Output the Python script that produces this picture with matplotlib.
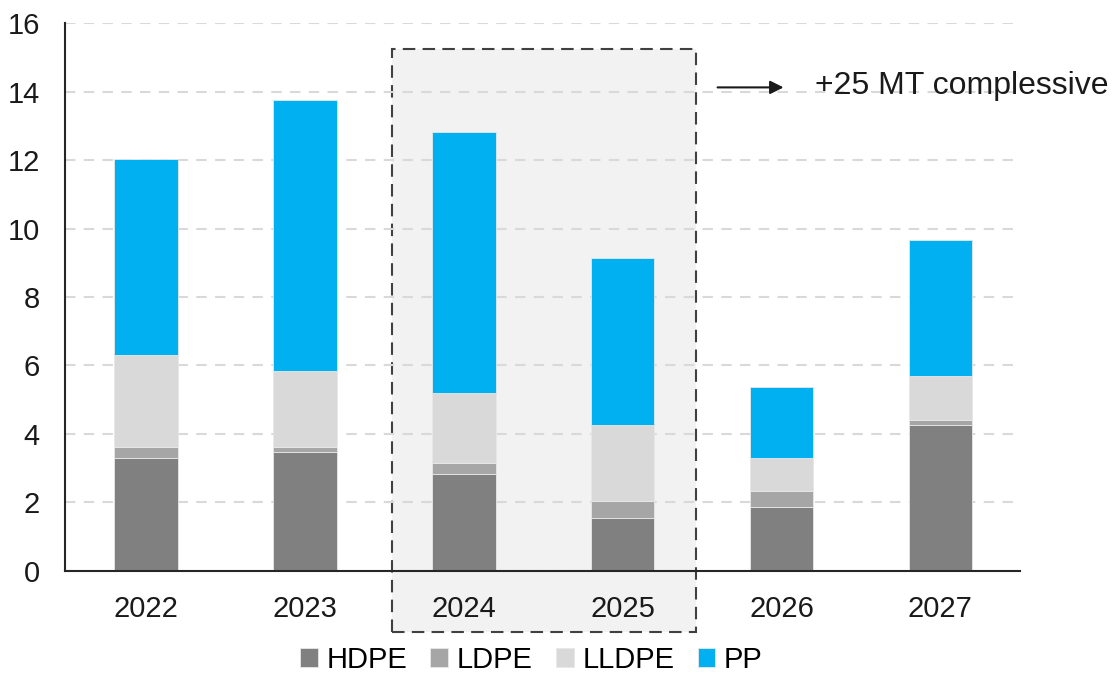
import matplotlib
matplotlib.use('Agg')
import matplotlib.pyplot as plt
from matplotlib.patches import Rectangle
import numpy as np

plt.rcParams['font.family'] = ['Liberation Sans', 'DejaVu Sans']

years = ['2022', '2023', '2024', '2025', '2026', '2027']
hdpe = [3.31, 3.46, 2.82, 1.56, 1.88, 4.25]
ldpe = [0.32, 0.17, 0.32, 0.47, 0.46, 0.16]
lldpe = [2.69, 2.22, 2.06, 2.23, 0.97, 1.28]
pp = [5.70, 7.89, 7.61, 4.89, 2.06, 3.96]

series = [('HDPE', hdpe, '#808080'),
          ('LDPE', ldpe, '#a6a6a6'),
          ('LLDPE', lldpe, '#d9d9d9'),
          ('PP', pp, '#00b0f0')]

fig = plt.figure(figsize=(11.14, 6.73), dpi=100)
ax = fig.add_axes([0.0583, 0.1516, 0.8572, 0.8142])

x = np.arange(len(years))

# highlighted period 2024-2025
box = Rectangle((1.547, -1.78), 1.913, 17.01, facecolor='#f2f2f2',
                edgecolor='#404040', linewidth=1.5, linestyle=(0, (6, 3.5)),
                clip_on=False, zorder=0)
ax.add_patch(box)

bottom = np.zeros(len(years))
for name, vals, color in series:
    ax.bar(x, vals, width=0.40, bottom=bottom, color=color, label=name,
           edgecolor='#e8e8e8', linewidth=0.6, zorder=3)
    bottom += np.array(vals)

ax.set_xlim(-0.51, 5.5)
ax.set_ylim(0, 16)
ax.set_yticks(range(0, 17, 2))
ax.set_xticks(x)
ax.set_xticklabels(years)
ax.tick_params(axis='both', length=0, labelsize=21, colors='#1a1a1a')
ax.tick_params(axis='x', pad=17)
ax.tick_params(axis='y', pad=18)

ax.yaxis.grid(True, color='#d9d9d9', linestyle=(0, (5, 4)), linewidth=1.5, zorder=1)
ax.set_axisbelow(True)
ax.patch.set_alpha(0)

for side in ['top', 'right']:
    ax.spines[side].set_visible(False)
for side in ['left', 'bottom']:
    ax.spines[side].set_color('#262626')
    ax.spines[side].set_linewidth(1.5)
    ax.spines[side].set_zorder(4)

ax.annotate('', xy=(4.03, 14.12), xytext=(3.58, 14.12),
            arrowprops=dict(arrowstyle='-|>', color='#1a1a1a', lw=1.5,
                            mutation_scale=20))
ax.text(4.21, 14.15, '+25 MT complessive', fontsize=23, color='#1a1a1a',
        va='center', ha='left')

fig.legend(loc='lower center', bbox_to_anchor=(0.477, -0.04), ncol=4,
           frameon=False, fontsize=21, handlelength=0.6, handleheight=0.6,
           handletextpad=0.3, columnspacing=0.8)

fig.savefig('out.png', dpi=100)
